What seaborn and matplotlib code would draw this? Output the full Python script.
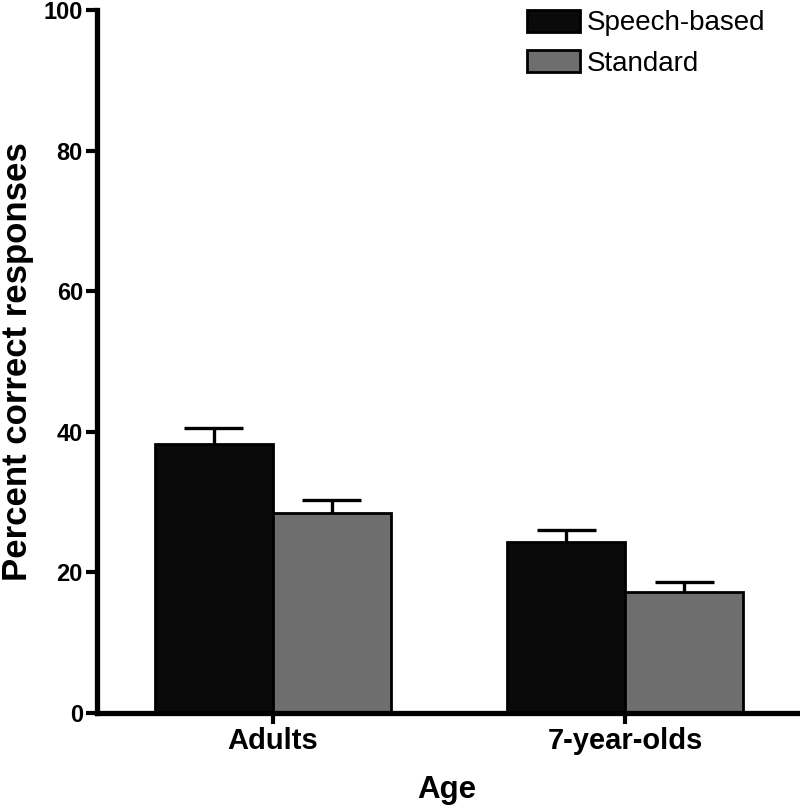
import pandas as pd
import matplotlib.pyplot as plt
import seaborn as sns

# chart values
ages = ['Adults', '7-year-olds']
speech_based = [38.2, 24.3]
standard = [28.4, 17.2]
speech_err = [2.3, 1.8]
standard_err = [1.9, 1.5]

df = pd.DataFrame({
    'Age': ages * 2,
    'Score': speech_based + standard,
    'Condition': ['Speech-based'] * 2 + ['Standard'] * 2,
})
errs = speech_err + standard_err

sns.set_style("ticks")
plt.rcParams['font.family'] = ['Liberation Sans', 'DejaVu Sans']
plt.rcParams.update({'text.color': 'black', 'axes.labelcolor': 'black',
                     'xtick.color': 'black', 'ytick.color': 'black',
                     'axes.edgecolor': 'black'})

fig = plt.figure(figsize=(8, 8.06), dpi=100)
ax = fig.add_axes([0.121, 0.1154, 0.876, 0.8722])

sns.barplot(data=df, x='Age', y='Score', hue='Condition', order=ages,
            palette=['#0a0a0a', '#6e6e6e'], errorbar=None, width=0.67,
            gap=0, edgecolor='black', linewidth=2, ax=ax)

# upper-only error bars (SEM)
bars = ax.patches[:4]
for bar, val, e in zip(bars, df['Score'], errs):
    cx = bar.get_x() + bar.get_width() / 2
    half = bar.get_width() * 0.25
    ax.vlines(cx, val, val + e, color='black', linewidth=2.4, zorder=1)
    ax.hlines(val + e, cx - half, cx + half, color='black', linewidth=2.4, zorder=1)

ax.set_ylim(0, 100)
ax.set_xlim(-0.5, 1.49)
ax.set_yticks([0, 20, 40, 60, 80, 100])
ax.set_ylabel('Percent correct responses', fontsize=25, fontweight='bold')
ax.yaxis.set_label_coords(-0.09, 0.5)
ax.set_xlabel('Age', fontsize=22.5, fontweight='bold')
ax.xaxis.set_label_coords(0.5, -0.088)
for lbl in ax.get_xticklabels():
    lbl.set_fontweight('bold')
    lbl.set_fontsize(21)
for lbl in ax.get_yticklabels():
    lbl.set_fontweight('bold')
    lbl.set_fontsize(17)
ax.tick_params(axis='both', width=3, length=8, pad=2, color='black', labelcolor='black')

for s in ['left', 'bottom']:
    ax.spines[s].set_linewidth(3.8)
    ax.spines[s].set_color('black')
sns.despine(ax=ax)

ax.legend(title=None, frameon=False, fontsize=20, loc='upper left',
          bbox_to_anchor=(0.659, 0.988), bbox_transform=fig.transFigure,
          handlelength=1.9, handleheight=0.85, handletextpad=0.25,
          labelspacing=0.5, borderaxespad=0, borderpad=0, labelcolor='black')

fig.savefig('out.png', dpi=100)
